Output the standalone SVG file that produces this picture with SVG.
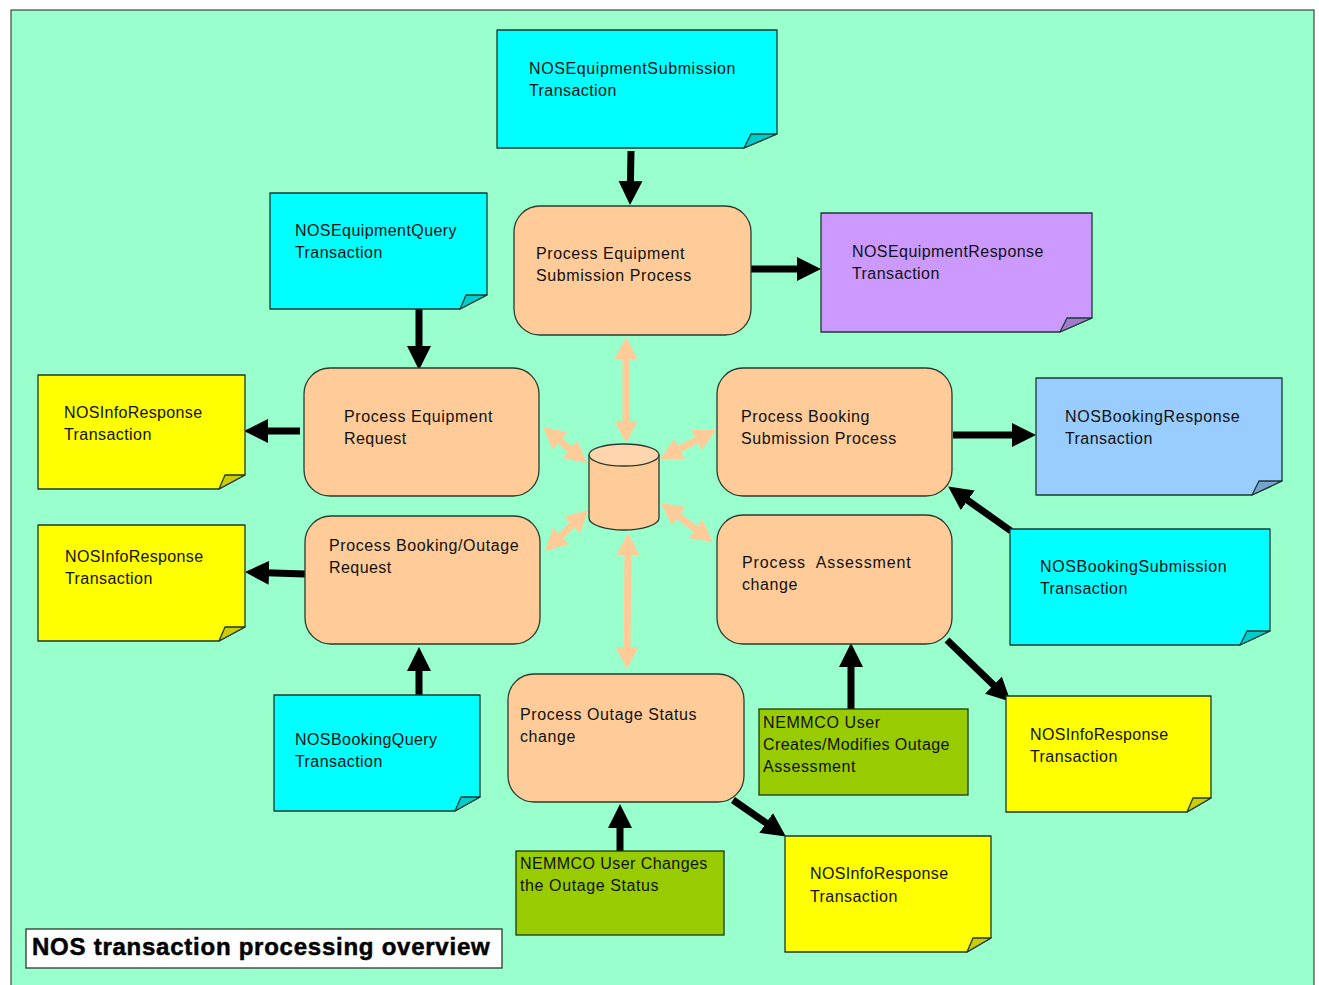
<svg xmlns="http://www.w3.org/2000/svg" width="1319" height="985" viewBox="0 0 1319 985">
<style>
.bg{fill:#99ffcc;stroke:#222;stroke-width:1}
.n{stroke:#1a3a30;stroke-width:1.3;stroke-linejoin:round}
.p{fill:#ffcc99;stroke:#2a3a30;stroke-width:1.3}
.cy{fill:#00ffff}.cyd{fill:#00cccc}
.ye{fill:#ffff00}.yed{fill:#cccc00}
.pu{fill:#cc99ff}.pud{fill:#a37acc}
.bl{fill:#99ccff}.bld{fill:#7aa3cc}
.gr{fill:#99cc00;stroke:#1a3a10;stroke-width:1.3}
text{font-family:"Liberation Sans",Arial,sans-serif;font-size:16px;letter-spacing:.6px;fill:#111}
text.a{letter-spacing:.43px}
text.i{letter-spacing:.33px}
text.w{letter-spacing:.88px}
.t{font-size:24px;font-weight:700;letter-spacing:.75px;fill:#000;stroke:#000;stroke-width:.5}
.k{stroke:#000;stroke-width:7;fill:none}
.o{stroke:#ffcc99;stroke-width:7;fill:none}
</style>
<defs>
<marker id="ak" markerUnits="userSpaceOnUse" markerWidth="26" markerHeight="26" refX="3" refY="13" orient="auto-start-reverse"><path d="M0 1L24 13L0 25Z" fill="#000"/></marker>
<marker id="ao" markerUnits="userSpaceOnUse" markerWidth="24" markerHeight="26" refX="4" refY="13" orient="auto-start-reverse"><path d="M0 1.500L22 13L0 24.500Z" fill="#ffcc99"/></marker>
</defs>
<rect class="bg" x="11" y="10" width="1303" height="980"/>
<g id="connectors">
<path class="k" d="M631 151L630.400 184" marker-end="url(#ak)"/>
<path class="k" d="M751 269H800" marker-end="url(#ak)"/>
<path class="k" d="M419 309V349" marker-end="url(#ak)"/>
<path class="k" d="M300 431H265" marker-end="url(#ak)"/>
<path class="k" d="M953 435H1015" marker-end="url(#ak)"/>
<path class="k" d="M1011 531L965.300 498.600" marker-end="url(#ak)"/>
<path class="k" d="M305 574L266 572.700" marker-end="url(#ak)"/>
<path class="k" d="M419 695V668" marker-end="url(#ak)"/>
<path class="k" d="M851 709V664" marker-end="url(#ak)"/>
<path class="k" d="M947 640L995.600 687.100" marker-end="url(#ak)"/>
<path class="k" d="M620 851V825" marker-end="url(#ak)"/>
<path class="k" d="M733 800L768.600 824.600" marker-end="url(#ak)"/>
<path class="o" d="M626 355V425" marker-start="url(#ao)" marker-end="url(#ao)"/>
<path class="o" d="M556.900 438.400L573.100 451.600" marker-start="url(#ao)" marker-end="url(#ao)"/>
<path class="o" d="M700 438.300L676 450.700" marker-start="url(#ao)" marker-end="url(#ao)"/>
<path class="o" d="M575 522.400L558 538.600" marker-start="url(#ao)" marker-end="url(#ao)"/>
<path class="o" d="M675.400 513.800L698.600 531.200" marker-start="url(#ao)" marker-end="url(#ao)"/>
<path class="o" d="M628 551L627 651" marker-start="url(#ao)" marker-end="url(#ao)"/>
</g>
<g id="store">
<path class="p" d="M589 455V518C589 525 606 530 624 530S659 525 659 518V455Z"/>
<ellipse cx="624" cy="455" rx="35" ry="11" fill="#ffd5ad" stroke="#2a3a30" stroke-width="1.300"/>
</g>
<g id="n-submission"><path class="n cy" d="M497 30H777V134L744 148H497Z"/><path class="n cyd" d="M744 148L751 134L777 134Z"/><text x="529" y="74">NOSEquipmentSubmission</text><text class="a" x="529" y="96">Transaction</text></g>
<g id="n-eqquery"><path class="n cy" d="M270 193H487V295L460 309H270Z"/><path class="n cyd" d="M460 309L466 295L487 295Z"/><text class="a" x="295" y="236">NOSEquipmentQuery</text><text class="a" x="295" y="258">Transaction</text></g>
<g id="n-eqresp"><path class="n pu" d="M821 213H1092V318L1060 332H821Z"/><path class="n pud" d="M1060 332L1067 318L1092 318Z"/><text class="a" x="852" y="257">NOSEquipmentResponse</text><text class="a" x="852" y="279">Transaction</text></g>
<g id="n-info1"><path class="n ye" d="M38 375H245V475L219 489H38Z"/><path class="n yed" d="M219 489L225 475L245 475Z"/><text class="i" x="64" y="418">NOSInfoResponse</text><text class="a" x="64" y="440">Transaction</text></g>
<g id="n-info2"><path class="n ye" d="M38 525H245V627L219 641H38Z"/><path class="n yed" d="M219 641L225 627L245 627Z"/><text class="i" x="65" y="562">NOSInfoResponse</text><text class="a" x="65" y="584">Transaction</text></g>
<g id="n-bkresp"><path class="n bl" d="M1036 378H1282V481L1252 495H1036Z"/><path class="n bld" d="M1252 495L1259 481L1282 481Z"/><text x="1065" y="422">NOSBookingResponse</text><text class="a" x="1065" y="444">Transaction</text></g>
<g id="n-bksub"><path class="n cy" d="M1010 529H1270V631L1240 645H1010Z"/><path class="n cyd" d="M1240 645L1247 631L1270 631Z"/><text x="1040" y="572">NOSBookingSubmission</text><text class="a" x="1040" y="594">Transaction</text></g>
<g id="n-info3"><path class="n ye" d="M1006 696H1211V798L1187 812H1006Z"/><path class="n yed" d="M1187 812L1193 798L1211 798Z"/><text class="i" x="1030" y="740">NOSInfoResponse</text><text class="a" x="1030" y="762">Transaction</text></g>
<g id="n-bkquery"><path class="n cy" d="M274 695H480V797L455 811H274Z"/><path class="n cyd" d="M455 811L461 797L480 797Z"/><text class="a" x="295" y="745">NOSBookingQuery</text><text class="a" x="295" y="767">Transaction</text></g>
<g id="n-info4"><path class="n ye" d="M785 836H991V938L967 952H785Z"/><path class="n yed" d="M967 952L973 938L991 938Z"/><text class="i" x="810" y="879">NOSInfoResponse</text><text class="a" x="810" y="902">Transaction</text></g>
<g id="p-eqsub"><rect class="p" x="514" y="206" width="237" height="129" rx="26"/><text x="536" y="259">Process Equipment</text><text x="536" y="281">Submission Process</text></g>
<g id="p-eqreq"><rect class="p" x="304" y="368" width="235" height="128" rx="26"/><text x="344" y="422">Process Equipment</text><text class="a" x="344" y="444">Request</text></g>
<g id="p-bksub"><rect class="p" x="717" y="368" width="235" height="128" rx="26"/><text x="741" y="422">Process Booking</text><text x="741" y="444">Submission Process</text></g>
<g id="p-bkreq"><rect class="p" x="305" y="516" width="235" height="128" rx="26"/><text x="329" y="551">Process Booking/Outage</text><text class="a" x="329" y="573">Request</text></g>
<g id="p-assess"><rect class="p" x="717" y="515" width="235" height="129" rx="26"/><text class="w" x="742" y="568" xml:space="preserve">Process  Assessment</text><text x="742" y="590">change</text></g>
<g id="p-status"><rect class="p" x="508" y="674" width="236" height="128" rx="26"/><text x="520" y="720">Process Outage Status</text><text x="520" y="742">change</text></g>
<g id="n-user1"><rect class="gr" x="759" y="709" width="209" height="86"/><text x="763" y="728">NEMMCO User</text><text class="a" x="763" y="750">Creates/Modifies Outage</text><text x="763" y="772">Assessment</text></g>
<g id="n-user2"><rect class="gr" x="516" y="851" width="208" height="84"/><text class="a" x="520" y="869">NEMMCO User Changes</text><text x="520" y="891">the Outage Status</text></g>
<g id="title"><rect x="26" y="929" width="476" height="39" fill="#fff" stroke="#2a3a30" stroke-width="1.300"/><text class="t" x="32" y="955">NOS transaction processing overview</text></g>
</svg>
